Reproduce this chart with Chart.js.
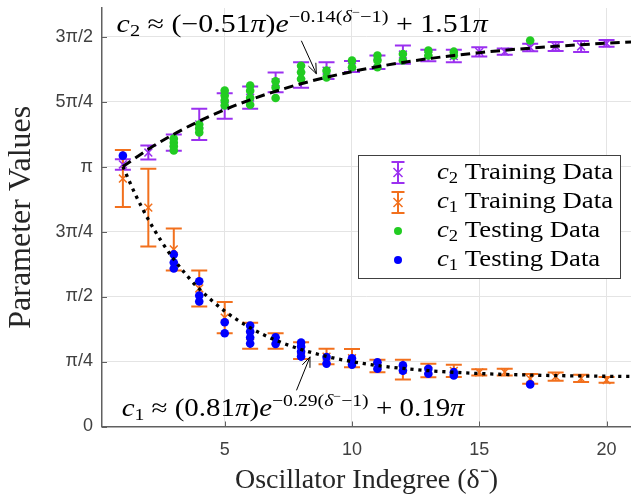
<!DOCTYPE html>
<html><head><meta charset="utf-8">
<script src="https://cdn.jsdelivr.net/npm/chart.js@4.4.1/dist/chart.umd.min.js"></script>
<style>html,body{margin:0;padding:0;background:#fff;}canvas{display:block;}</style>
</head><body>
<canvas id="c" width="631" height="498"></canvas>
<script>
// ---- data (values in units of pi) ----
const degrees = [1,2,3,4,5,6,7,8,9,10,11,12,13,14,15,16,17,18,19,20];
const c2TrainMean = [1.008,1.054,1.092,1.162,1.233,1.265,1.324,1.352,1.369,1.385,1.401,1.431,1.427,1.425,1.441,1.442,1.458,1.462,1.462,1.474];
const c2TrainErr  = [0.020,0.027,0.031,0.060,0.049,0.043,0.038,0.049,0.032,0.021,0.026,0.035,0.022,0.024,0.018,0.012,0.014,0.017,0.021,0.013];
const c1TrainMean = [0.954,0.842,0.681,0.531,0.419,0.349,0.329,0.292,0.269,0.263,0.233,0.219,0.215,0.214,0.208,0.209,0.183,0.192,0.185,0.179];
const c1TrainErr  = [0.110,0.150,0.081,0.069,0.060,0.050,0.030,0.032,0.030,0.035,0.024,0.038,0.026,0.024,0.012,0.013,0.019,0.016,0.014,0.011];
const c2TestDeg = [3,3,3,3,4,4,4,5,5,5,5,6,6,6,6,7,7,7,8,8,8,9,9,10,10,11,11,11,12,12,13,13,14,14,17];
const c2TestVal = [1.108,1.092,1.077,1.062,1.162,1.146,1.131,1.292,1.273,1.254,1.235,1.312,1.292,1.265,1.238,1.328,1.304,1.264,1.388,1.363,1.337,1.369,1.343,1.408,1.382,1.427,1.408,1.382,1.433,1.408,1.446,1.427,1.442,1.427,1.485];
const c1TestDeg = [1,3,3,3,4,4,4,5,5,6,6,6,6,7,7,8,8,8,8,9,9,10,10,11,11,12,12,13,13,14,14,17];
const c1TestVal = [1.042,0.662,0.631,0.608,0.559,0.504,0.481,0.401,0.359,0.388,0.365,0.342,0.319,0.343,0.318,0.323,0.308,0.288,0.269,0.267,0.242,0.262,0.238,0.247,0.222,0.235,0.215,0.222,0.203,0.209,0.196,0.162];
const c2FitDeg = [1,2,3,4,5,6,7,8,9,10,11,12,13,14,15,16,17,18,19,20,21];
const c2FitVal = [1.000,1.0666,1.1245,1.1749,1.2187,1.2567,1.2898,1.3186,1.3436,1.3653,1.3842,1.4007,1.4149,1.4274,1.4381,1.4475,1.4557,1.4628,1.4689,1.4744,1.4790];
const c1FitDeg = [1,1.5,2,2.5,3,3.5,4,5,6,7,8,9,10,11,12,13,14,15,16,17,18,19,20,21];
const c1FitVal = [1.000,0.8907,0.7961,0.7143,0.6435,0.5823,0.5294,0.4439,0.3800,0.3322,0.2964,0.2696,0.2495,0.2346,0.2234,0.2149,0.2087,0.2039,0.2004,0.1979,0.1958,0.1944,0.1932,0.1924];
const xTickValues = [5,10,15,20];
const yTickValues = [0,0.25,0.5,0.75,1,1.25,1.5];
const yTickLabels = ['0','π/4','π/2','3π/4','π','5π/4','3π/2'];

// ---- styles ----
const PURPLE = '#9b30f0', ORANGE = '#f2701d', GREEN = '#22cc22', BLUE = '#0000ff';
const SERIF = '"Liberation Serif","Times New Roman",serif';
const SANS = '"Liberation Sans",Arial,Helvetica,sans-serif';
const AXIS = '#606060', GRID = '#e4e4e4', TICKC = '#404040';
const M = (sz, it) => (it ? 'italic ' : '') + sz + 'px ' + SERIF;

function pts(xs, ys){ return xs.map((v,i)=>({x:v, y:ys[i]})); }

function drawRich(ctx, x, y, segs, targetW){
  let w = 0;
  for (const s of segs){ ctx.font = s.f; w += ctx.measureText(s.t).width; }
  const k = targetW ? targetW / w : 1;
  ctx.save(); ctx.translate(x, y); ctx.scale(k, 1);
  ctx.textBaseline = 'alphabetic'; ctx.textAlign = 'left';
  let cx = 0;
  for (const s of segs){ ctx.font = s.f; ctx.fillText(s.t, cx, s.dy || 0); cx += ctx.measureText(s.t).width; }
  ctx.restore();
  return k;
}
function arrow(ctx, x0, y0, x1, y1){
  ctx.beginPath(); ctx.moveTo(x0, y0); ctx.lineTo(x1, y1); ctx.stroke();
  const a = Math.atan2(y1 - y0, x1 - x0), L = 11, w = 0.38;
  ctx.beginPath();
  ctx.moveTo(x1 - L*Math.cos(a - w), y1 - L*Math.sin(a - w));
  ctx.lineTo(x1, y1);
  ctx.lineTo(x1 - L*Math.cos(a + w), y1 - L*Math.sin(a + w));
  ctx.stroke();
}

const errorBars = {
  id: 'errorBars',
  beforeDatasetsDraw(chart){
    const {ctx, chartArea: ca, scales: {x, y}} = chart;
    ctx.save();
    ctx.beginPath(); ctx.rect(ca.left, ca.top, ca.right - ca.left, ca.bottom - ca.top); ctx.clip();
    ctx.lineWidth = 2;
    const draw = (means, errs, color) => {
      ctx.strokeStyle = color;
      degrees.forEach((d, i) => {
        const px = x.getPixelForValue(d);
        const t = y.getPixelForValue(means[i] + errs[i]);
        const b = y.getPixelForValue(means[i] - errs[i]);
        ctx.beginPath();
        ctx.moveTo(px, t); ctx.lineTo(px, b);
        ctx.moveTo(px - 8, t); ctx.lineTo(px + 8, t);
        ctx.moveTo(px - 8, b); ctx.lineTo(px + 8, b);
        ctx.stroke();
      });
    };
    draw(c2TrainMean, c2TrainErr, PURPLE);
    draw(c1TrainMean, c1TrainErr, ORANGE);
    ctx.restore();
  }
};

const overlay = {
  id: 'overlay',
  afterDraw(chart){
    const {ctx, chartArea: ca, scales: {x, y}} = chart;
    ctx.save();
    // inward ticks
    ctx.strokeStyle = AXIS; ctx.lineWidth = 1;
    ctx.beginPath();
    yTickValues.forEach(v => { const py = Math.round(y.getPixelForValue(v)) + 0.5; ctx.moveTo(ca.left, py); ctx.lineTo(ca.left + 5, py); });
    xTickValues.forEach(v => { const px = Math.round(x.getPixelForValue(v)) + 0.5; ctx.moveTo(px, ca.bottom); ctx.lineTo(px, ca.bottom - 5); });
    ctx.stroke();

    // equations
    ctx.fillStyle = '#000';
    drawRich(ctx, x.getPixelForValue(0.754), y.getPixelForValue(1.517), [
      {t:'c', f:M(25,1)}, {t:'2', f:M(17), dy:4},
      {t:' ≈ (−0.51', f:M(25)}, {t:'π', f:M(25,1)}, {t:')', f:M(25)}, {t:'e', f:M(25,1)},
      {t:'−0.14(', f:M(17), dy:-10}, {t:'δ', f:M(17,1), dy:-10}, {t:'−', f:M(12), dy:-16}, {t:'−1)', f:M(17), dy:-10},
      {t:' + 1.51', f:M(25)}, {t:'π', f:M(25,1)}
    ], 371);
    drawRich(ctx, x.getPixelForValue(0.951), y.getPixelForValue(0.0404), [
      {t:'c', f:M(25,1)}, {t:'1', f:M(17), dy:4},
      {t:' ≈ (0.81', f:M(25)}, {t:'π', f:M(25,1)}, {t:')', f:M(25)}, {t:'e', f:M(25,1)},
      {t:'−0.29(', f:M(17), dy:-10}, {t:'δ', f:M(17,1), dy:-10}, {t:'−', f:M(12), dy:-16}, {t:'−1)', f:M(17), dy:-10},
      {t:' + 0.19', f:M(25)}, {t:'π', f:M(25,1)}
    ], 343);

    // arrows
    ctx.strokeStyle = '#000'; ctx.lineWidth = 1;
    const t1x = x.getPixelForValue(8.6), t1y = y.getPixelForValue(1.357);
    arrow(ctx, t1x - 15, t1y - 33, t1x, t1y);
    const t2x = x.getPixelForValue(8.35), t2y = y.getPixelForValue(0.268);
    arrow(ctx, t2x - 13.5, t2y + 33.5, t2x, t2y);

    // legend
    const L = 358, T = 155, R = 620, B = 278;
    ctx.fillStyle = '#fff'; ctx.fillRect(L, T, R - L, B - T);
    ctx.strokeStyle = '#404040'; ctx.lineWidth = 1;
    ctx.strokeRect(L + 0.5, T + 0.5, R - L, B - T);
    const mx = 398;
    const ebar = (cy, color) => {
      ctx.strokeStyle = color; ctx.lineWidth = 2;
      ctx.beginPath();
      ctx.moveTo(mx, cy - 10.5); ctx.lineTo(mx, cy + 10.5);
      ctx.moveTo(mx - 6.5, cy - 10.5); ctx.lineTo(mx + 6.5, cy - 10.5);
      ctx.moveTo(mx - 6.5, cy + 10.5); ctx.lineTo(mx + 6.5, cy + 10.5);
      ctx.stroke();
      ctx.lineWidth = 1.5;
      ctx.beginPath();
      ctx.moveTo(mx - 4.5, cy - 4.5); ctx.lineTo(mx + 4.5, cy + 4.5);
      ctx.moveTo(mx - 4.5, cy + 4.5); ctx.lineTo(mx + 4.5, cy - 4.5);
      ctx.stroke();
    };
    const dot = (cy, color) => { ctx.fillStyle = color; ctx.beginPath(); ctx.arc(mx, cy, 4, 0, Math.PI*2); ctx.fill(); };
    ebar(172.5, PURPLE); ebar(202.5, ORANGE); dot(231, GREEN); dot(260, BLUE);
    ctx.fillStyle = '#000';
    const row = (sub, txt) => [ {t:'c', f:M(23,1)}, {t:sub, f:M(16), dy:4}, {t:txt, f:M(23)} ];
    const k = drawRich(ctx, 437, 178.5, row('2', ' Training Data'), 176);
    drawRich(ctx, 437, 208, row('1', ' Training Data'), 176);
    const measure = segs => { let w = 0; for (const s of segs){ ctx.font = s.f; w += ctx.measureText(s.t).width; } return w; };
    const r3 = row('2', ' Testing Data'), r4 = row('1', ' Testing Data');
    drawRich(ctx, 437, 237, r3, measure(r3) * k);
    drawRich(ctx, 437, 266, r4, measure(r4) * k);
    ctx.restore();
  }
};

new Chart(document.getElementById('c'), {
  data: {
    datasets: [
      {type:'line', label:'c2 fit', data: pts(c2FitDeg, c2FitVal), borderColor:'#000', borderWidth:3, borderDash:[9.5,5.5], pointRadius:0, fill:false, cubicInterpolationMode:'monotone'},
      {type:'line', label:'c1 fit', data: pts(c1FitDeg, c1FitVal), borderColor:'#000', borderWidth:3.3, borderDash:[3.2,4.8], pointRadius:0, fill:false, cubicInterpolationMode:'monotone'},
      {type:'scatter', label:'c1 Testing Data', data: pts(c1TestDeg, c1TestVal), backgroundColor:BLUE, borderWidth:0, pointRadius:4.3, pointStyle:'circle'},
      {type:'scatter', label:'c2 Testing Data', data: pts(c2TestDeg, c2TestVal), backgroundColor:GREEN, borderWidth:0, pointRadius:4.3, pointStyle:'circle'},
      {type:'scatter', label:'c1 Training Data', data: pts(degrees, c1TrainMean), borderColor:ORANGE, backgroundColor:ORANGE, borderWidth:1.5, pointRadius:5.5, pointStyle:'crossRot'},
      {type:'scatter', label:'c2 Training Data', data: pts(degrees, c2TrainMean), borderColor:PURPLE, backgroundColor:PURPLE, borderWidth:1.5, pointRadius:5.5, pointStyle:'crossRot'}
    ]
  },
  options: {
    responsive: false, animation: false, devicePixelRatio: 1,
    layout: {autoPadding: false, padding: {top: 8, right: 0, bottom: 0, left: 0}},
    plugins: {legend: {display: false}, tooltip: {enabled: false}},
    events: [],
    scales: {
      x: {
        type: 'linear', min: 0.18, max: 20.96,
        afterBuildTicks: s => { s.ticks = xTickValues.map(v => ({value: v})); },
        afterFit: s => { s.height = 71.5; s.paddingLeft = 0; s.paddingRight = 0; },
        grid: {color: GRID, lineWidth: 1, drawTicks: false},
        border: {color: AXIS, width: 1.5},
        ticks: {font: {family: SANS, size: 18}, color: TICKC, padding: 13, maxRotation: 0, autoSkip: false},
        title: {display: true, text: 'Oscillator Indegree (δ⁻)', font: {family: SERIF, size: 28}, color: '#262626', padding: {top: 0, bottom: 1}}
      },
      y: {
        type: 'linear', min: 0, max: 1.61,
        afterBuildTicks: s => { s.ticks = yTickValues.map(v => ({value: v})); },
        afterFit: s => { s.width = 102; s.paddingTop = 0; s.paddingBottom = 0; },
        grid: {color: GRID, lineWidth: 1, drawTicks: false},
        border: {color: AXIS, width: 1.5},
        ticks: {font: {family: SANS, size: 18}, color: TICKC, padding: 9, autoSkip: false,
                callback: v => { const i = yTickValues.indexOf(v); return i >= 0 ? yTickLabels[i] : ''; }},
        title: {display: true, text: 'Parameter Values', font: {family: SERIF, size: 32}, color: '#262626', padding: {top: 2, bottom: 0}}
      }
    }
  },
  plugins: [errorBars, overlay]
});
</script>
</body></html>
